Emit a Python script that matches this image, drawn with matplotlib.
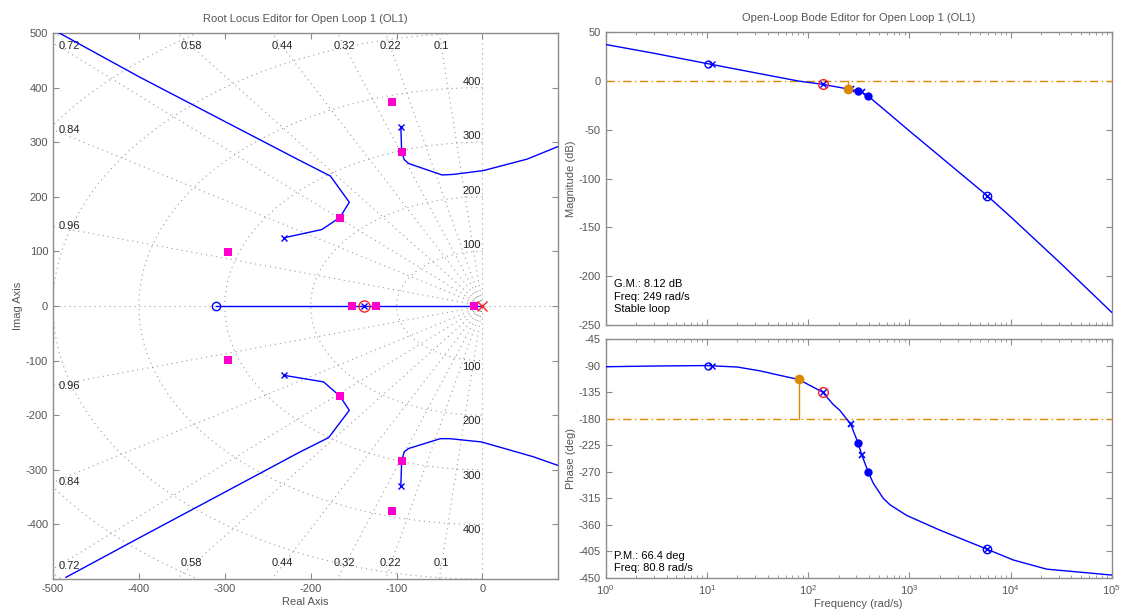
import numpy as np
import matplotlib
matplotlib.use("Agg")
import matplotlib.pyplot as plt
from matplotlib.ticker import LogLocator, NullFormatter, FixedLocator

plt.rcParams['font.family'] = ['Liberation Sans', 'DejaVu Sans']
plt.rcParams['axes.unicode_minus'] = False

# ---------------- root locus data ----------------
# upper / lower branches leaving the complex pole pair near -231 +/- 125j
branch1_up_re = [-231, -187, -166, -155, -177, -212, -300, -400, -495]
branch1_up_im = [125, 140, 162, 190, 238, 266, 338, 420, 502]
branch1_lo_re = [-231, -185, -166, -155, -179, -212, -300, -400, -485]
branch1_lo_im = [-127, -139, -165, -191, -241, -267, -341, -425, -497]

# branches leaving the lightly damped pole pair near -95 +/- 328j
branch2_up_re = [-95, -94, -91, -86, -47, -34, 1, 52, 88]
branch2_up_im = [328, 282, 268, 261, 240, 241, 248, 269, 292]
branch2_lo_re = [-95, -94, -91, -86, -49, -38, -1, 59, 88]
branch2_lo_im = [-329, -283, -267, -261, -243, -243, -249, -276, -292]

# real-axis segment
real_seg_re = [-310, 0]
real_seg_im = [0, 0]

# open-loop poles / zeros
plant_pole_re = [-231, -231, -95, -95]
plant_pole_im = [125, -127, 328, -329]
plant_zero_re = [-310]
plant_zero_im = [0]
comp_pole_re = [0]
comp_pole_im = [0]
comp_zero_re = [-138]
comp_zero_im = [0]

# closed-loop poles
cl_re = [-152, -124, -10, -166, -166, -94, -94, -105, -105, -296, -296]
cl_im = [0, 0, 0, 162, -164, 282, -283, 374, -376, 98, -98]

# grid: damping ratios and natural frequencies
zeta_vals = [0.1, 0.22, 0.32, 0.44, 0.58, 0.72, 0.84, 0.96]
wn_vals = [100, 200, 300, 400, 500, 600, 700]
wn_labels = [100, 200, 300, 400]

# ---------------- Bode data ----------------
mag_w = [1, 3, 10, 30, 80.8, 139, 249, 313, 340, 394, 1000, 2000,
         5890, 10000, 30000, 100000]
mag_db = [37.5, 28.5, 18, 8.5, 0, -3.3, -8.12, -10, -11.5, -15.5, -51,
          -77, -117.5, -139, -185, -237]

ph_w = [1, 3, 10, 20, 33.5, 50.7, 80.8, 139, 177, 206, 263, 313, 340, 394,
        441, 553, 645, 943, 2010, 5820, 10660, 22800, 100000]
ph_deg = [-92, -90.8, -90, -92.5, -99, -106, -113.6, -135, -156, -166, -189,
          -222, -242, -271, -289.5, -315, -326, -344, -369, -401, -419.5,
          -435, -445]

gm_db = 8.12
gm_freq = 249
pm_deg = 66.4
pm_freq = 80.8

# markers on the Bode curves
bode_zero_w, bode_pole_w = 10.2, 11.3
mag_zero_db, ph_zero_deg = 18, -90
mag_pole_db, ph_pole_deg = 17.3, -90
comp_w, comp_mag, comp_ph = 139, -3.3, -135
bx_w = [263, 340]
bx_mag = [-8.3, -11.5]
bx_ph = [-189, -242]
bdot_w = [313, 394]
bdot_mag = [-10, -15.5]
bdot_ph = [-222, -271]
hf_w, hf_mag, hf_ph = 5890, -117.5, -401

# ---------------- styling ----------------
BLUE = '#0000FF'
MAG = '#FF00CC'
ORANGE = '#DB8A00'
GRID = '#999999'
SPINE = '#8c8c8c'
TXT = '#555555'
FS = 8

W, H = 1121, 613
fig = plt.figure(figsize=(W / 100, H / 100), dpi=100)


def box(l, t, r, b):
    return [l / W, 1 - b / H, (r - l) / W, (b - t) / H]


def style(ax):
    for s in ax.spines.values():
        s.set_color(SPINE)
        s.set_linewidth(1.0)
    ax.tick_params(which='both', direction='in', top=True, right=True,
                   colors=SPINE, labelcolor=TXT, labelsize=FS)
    ax.tick_params(which='major', length=4)
    ax.tick_params(which='minor', length=2.5)


# ================= root locus =================
ax = fig.add_axes(box(53, 33, 558, 579))
style(ax)
XL, YL = (-500, 88), (-500, 500)
ax.set_xlim(*XL)
ax.set_ylim(*YL)

dot = dict(color=GRID, lw=0.8, ls=(0, (1, 3.5)), zorder=1)
# damping-ratio rays
for z in zeta_vals:
    th = np.arccos(z)
    r = 2000
    ax.plot([0, -r * np.cos(th)], [0, r * np.sin(th)], **dot)
    ax.plot([0, -r * np.cos(th)], [0, -r * np.sin(th)], **dot)
ax.plot([-2000, 2000], [0, 0], **dot)
ax.plot([0, 0], [-2000, 2000], **dot)
# natural-frequency semicircles
ang = np.linspace(np.pi / 2, 3 * np.pi / 2, 400)
for wn in wn_vals:
    ax.plot(wn * np.cos(ang), wn * np.sin(ang), **dot)

# damping labels
for z in zeta_vals:
    t = np.tan(np.arccos(z))
    xt = -476 / t
    lab = f'{z:g}'
    if xt > -480:
        ax.text(xt, 476, lab, ha='center', va='center', fontsize=FS, color='#222222')
        ax.text(xt, -470, lab, ha='center', va='center', fontsize=FS, color='#222222')
    else:
        yl = min(500 * t, 476)
        ax.text(-494, yl, lab, ha='left', va='center', fontsize=FS, color='#222222')
        ax.text(-494, -yl, lab, ha='left', va='center', fontsize=FS, color='#222222')
# frequency labels
for wn in wn_labels:
    ax.text(-2, wn + 2, str(wn), ha='right', va='bottom', fontsize=FS, color='#222222')
    ax.text(-2, -wn - 2, str(wn), ha='right', va='top', fontsize=FS, color='#222222')

lw = 1.0
ax.plot(branch1_up_re, branch1_up_im, color=BLUE, lw=lw, zorder=3)
ax.plot(branch1_lo_re, branch1_lo_im, color=BLUE, lw=lw, zorder=3)
ax.plot(branch2_up_re, branch2_up_im, color=BLUE, lw=lw, zorder=3)
ax.plot(branch2_lo_re, branch2_lo_im, color=BLUE, lw=lw, zorder=3)
ax.plot(real_seg_re, real_seg_im, color=BLUE, lw=lw, zorder=3)

ax.plot(plant_pole_re, plant_pole_im, 'x', color=BLUE, ms=5, mew=1, zorder=4)
ax.plot(plant_zero_re, plant_zero_im, 'o', mfc='none', mec=BLUE, ms=6, mew=1, zorder=4)
ax.plot(comp_pole_re, comp_pole_im, 'x', color='#FF2020', ms=7, mew=1, zorder=4)
ax.plot(comp_zero_re, comp_zero_im, 'o', mfc='none', mec='#FF2020', ms=8, mew=1, zorder=4)
ax.plot(comp_zero_re, comp_zero_im, 'x', color=BLUE, ms=4, mew=1, zorder=4)
ax.plot(cl_re, cl_im, 's', color=MAG, ms=6, mew=0, zorder=5)

ax.xaxis.set_major_locator(FixedLocator([-500, -400, -300, -200, -100, 0]))
ax.yaxis.set_major_locator(FixedLocator([-500, -400, -300, -200, -100, 0, 100, 200, 300, 400, 500]))
ax.set_yticklabels(['', '-400', '-300', '-200', '-100', '0', '100', '200', '300', '400', '500'])
ax.set_xlabel('Real Axis', fontsize=FS, color=TXT, labelpad=2)
ax.set_ylabel('Imag Axis', fontsize=FS, color=TXT, labelpad=2)
ax.set_title('Root Locus Editor for Open Loop 1 (OL1)', fontsize=FS, color=TXT, pad=8)

# ================= Bode magnitude =================
am = fig.add_axes(box(605.7, 32.3, 1111.7, 325))
style(am)
am.set_xscale('log')
am.set_xlim(1, 1e5)
am.set_ylim(-250, 50)
am.yaxis.set_major_locator(FixedLocator(list(range(-250, 51, 50))))
am.xaxis.set_major_locator(LogLocator(base=10, numticks=10))
am.xaxis.set_minor_locator(LogLocator(base=10, subs=np.arange(2, 10), numticks=20))
am.xaxis.set_major_formatter(NullFormatter())
am.xaxis.set_minor_formatter(NullFormatter())
am.axhline(0, color=ORANGE, lw=1, ls=(0, (6, 2.5, 1, 2.5)), zorder=2)
am.plot(mag_w, mag_db, color=BLUE, lw=lw, zorder=3)
am.plot([gm_freq, gm_freq], [0, -gm_db], color=ORANGE, lw=1, zorder=3)
am.plot([bode_zero_w], [mag_zero_db], 'o', mfc='none', mec=BLUE, ms=5, mew=1, zorder=4)
am.plot([bode_pole_w], [mag_pole_db], 'x', color=BLUE, ms=4, mew=1, zorder=4)
am.plot(bx_w, bx_mag, 'x', color=BLUE, ms=5, mew=1.2, zorder=4)
am.plot(bdot_w, bdot_mag, 'o', color=BLUE, ms=6, mew=0, zorder=4)
am.plot([comp_w], [comp_mag], 'o', mfc='none', mec='#FF2020', ms=7, mew=1, zorder=4)
am.plot([comp_w], [comp_mag], 'x', color=BLUE, ms=4, mew=1, zorder=4)
am.plot([hf_w], [hf_mag], 'o', mfc='none', mec=BLUE, ms=6, mew=1, zorder=4)
am.plot([hf_w], [hf_mag], 'x', color=BLUE, ms=4, mew=1, zorder=4)
am.plot([gm_freq], [-gm_db], 'o', color=ORANGE, ms=7, mew=0, zorder=5)
am.set_ylabel('Magnitude (dB)', fontsize=FS, color=TXT, labelpad=2)
am.set_title('Open-Loop Bode Editor for Open Loop 1 (OL1)', fontsize=FS, color=TXT, pad=8)
am.text(0.016, 0.158, f'G.M.: {gm_db:.2f} dB\nFreq: {gm_freq} rad/s\nStable loop',
        transform=am.transAxes, fontsize=FS, color='black', va='top', ha='left',
        linespacing=1.35)

# ================= Bode phase =================
ap = fig.add_axes(box(605.7, 339, 1111.7, 578))
style(ap)
ap.set_xscale('log')
ap.set_xlim(1, 1e5)
ap.set_ylim(-450, -45)
ap.yaxis.set_major_locator(FixedLocator(list(range(-450, -44, 45))))
ap.xaxis.set_major_locator(LogLocator(base=10, numticks=10))
ap.xaxis.set_minor_locator(LogLocator(base=10, subs=np.arange(2, 10), numticks=20))
ap.xaxis.set_minor_formatter(NullFormatter())
ap.axhline(-180, color=ORANGE, lw=1, ls=(0, (6, 2.5, 1, 2.5)), zorder=2)
ap.plot(ph_w, ph_deg, color=BLUE, lw=lw, zorder=3)
ap.plot([pm_freq, pm_freq], [-180, -180 + pm_deg], color=ORANGE, lw=1, zorder=3)
ap.plot([bode_zero_w], [ph_zero_deg], 'o', mfc='none', mec=BLUE, ms=5, mew=1, zorder=4)
ap.plot([bode_pole_w], [ph_pole_deg], 'x', color=BLUE, ms=4, mew=1, zorder=4)
ap.plot(bx_w, bx_ph, 'x', color=BLUE, ms=5, mew=1.2, zorder=4)
ap.plot(bdot_w, bdot_ph, 'o', color=BLUE, ms=6, mew=0, zorder=4)
ap.plot([comp_w], [comp_ph], 'o', mfc='none', mec='#FF2020', ms=7, mew=1, zorder=4)
ap.plot([comp_w], [comp_ph], 'x', color=BLUE, ms=4, mew=1, zorder=4)
ap.plot([hf_w], [hf_ph], 'o', mfc='none', mec=BLUE, ms=6, mew=1, zorder=4)
ap.plot([hf_w], [hf_ph], 'x', color=BLUE, ms=4, mew=1, zorder=4)
ap.plot([pm_freq], [-180 + pm_deg], 'o', color=ORANGE, ms=7, mew=0, zorder=5)
ap.set_ylabel('Phase (deg)', fontsize=FS, color=TXT, labelpad=2)
ap.set_xlabel('Frequency (rad/s)', fontsize=FS, color=TXT, labelpad=2)
ap.text(0.016, 0.115, f'P.M.: {pm_deg} deg\nFreq: {pm_freq} rad/s',
        transform=ap.transAxes, fontsize=FS, color='black', va='top', ha='left',
        linespacing=1.35)

fig.savefig('out.png', dpi=100)
